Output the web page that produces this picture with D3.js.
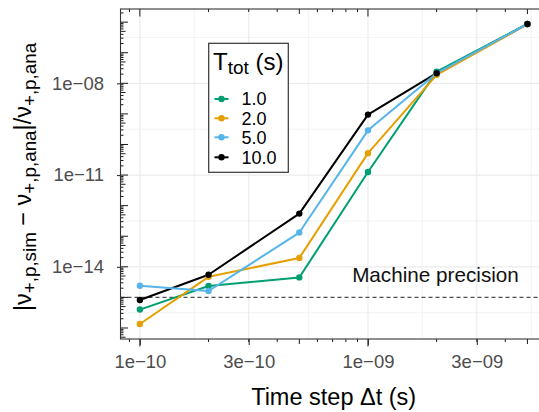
<!DOCTYPE html>
<html>
<head>
<meta charset="utf-8">
<script src="https://cdn.jsdelivr.net/npm/d3@7"></script>
<style>
  html, body { margin: 0; padding: 0; background: #ffffff; }
  svg { display: block; font-family: "Liberation Sans", Arial, Helvetica, sans-serif; }
</style>
</head>
<body>
<svg id="chart" width="539" height="412"></svg>
<script>
// Time steps (s)
const timeSteps = [1e-10, 2e-10, 5e-10, 1e-9, 2e-9, 5e-9];

// Total simulated time levels (s) and their colours
const ttotLevels = ["1.0", "2.0", "5.0", "10.0"];
const ttotColors = ["#009E73", "#E69F00", "#56B4E9", "#000000"];

// Relative error of the sampled rate, one array per T_tot
const relErr_1 = [4.0e-16, 2.35e-15, 4.5e-15, 1.26e-11, 2.4e-8, 8.7e-7];
const relErr_2 = [1.35e-16, 4.7e-15, 1.95e-14, 5.2e-11, 1.9e-8, 8.5e-7];
const relErr_5 = [2.4e-15, 1.62e-15, 1.32e-13, 2.9e-10, 2.14e-8, 8.7e-7];
const relErr_10 = [8.2e-16, 5.5e-15, 5.5e-13, 9.5e-10, 2.14e-8, 8.7e-7];

// Axis breaks and labels
const xBreaks = [1e-10, 3e-10, 1e-9, 3e-9];
const xBreakLabels = ["1e\u221210", "3e\u221210", "1e\u221209", "3e\u221209"];
const yBreaks = [1e-14, 1e-11, 1e-8];
const yBreakLabels = ["1e\u221214", "1e\u221211", "1e\u221208"];

// Reference level
const machinePrecision = 1e-15;
const machineLabel = "Machine precision";

const series = [
  { level: ttotLevels[0], color: ttotColors[0], values: relErr_1 },
  { level: ttotLevels[1], color: ttotColors[1], values: relErr_2 },
  { level: ttotLevels[2], color: ttotColors[2], values: relErr_5 },
  { level: ttotLevels[3], color: ttotColors[3], values: relErr_10 }
];

const svg = d3.select("#chart");

// Panel box (the right border runs past the visible canvas)
const panel = { left: 120.5, right: 546.8, top: 9, bottom: 339 };

// Log scales with a 5% expansion of the data range in log space
function expandedLogDomain(vals) {
  const ext = d3.extent(vals.map(v => Math.log10(v)));
  const pad = (ext[1] - ext[0]) * 0.05;
  return [Math.pow(10, ext[0] - pad), Math.pow(10, ext[1] + pad)];
}
const allErr = [].concat(relErr_1, relErr_2, relErr_5, relErr_10);
const x = d3.scaleLog().domain(expandedLogDomain(timeSteps)).range([panel.left, panel.right]);
const y = d3.scaleLog().domain(expandedLogDomain(allErr)).range([panel.bottom, panel.top]);

// Minor breaks: log-space midpoints between majors, extended by one step
function minorBreaks(majors) {
  const lb = majors.map(v => Math.log10(v));
  const step = lb[1] - lb[0];
  const ext = [lb[0] - step].concat(lb, [lb[lb.length - 1] + step]);
  const out = [];
  for (let i = 0; i < ext.length - 1; i++) out.push(Math.pow(10, (ext[i] + ext[i + 1]) / 2));
  return out;
}

const grid = svg.append("g");
const xd = x.domain(), yd = y.domain();
minorBreaks(xBreaks).filter(v => v > xd[0] && v < xd[1]).forEach(v => {
  grid.append("line").attr("x1", x(v)).attr("x2", x(v)).attr("y1", panel.top).attr("y2", panel.bottom)
    .attr("stroke", "#f2f2f2").attr("stroke-width", 0.9);
});
minorBreaks(yBreaks).filter(v => v > yd[0] && v < yd[1]).forEach(v => {
  grid.append("line").attr("x1", panel.left).attr("x2", panel.right).attr("y1", y(v)).attr("y2", y(v))
    .attr("stroke", "#f2f2f2").attr("stroke-width", 0.9);
});
xBreaks.forEach(v => {
  grid.append("line").attr("x1", x(v)).attr("x2", x(v)).attr("y1", panel.top).attr("y2", panel.bottom)
    .attr("stroke", "#ebebeb").attr("stroke-width", 1.2);
});
yBreaks.forEach(v => {
  grid.append("line").attr("x1", panel.left).attr("x2", panel.right).attr("y1", y(v)).attr("y2", y(v))
    .attr("stroke", "#ebebeb").attr("stroke-width", 1.2);
});

// Machine precision reference line and label
svg.append("line")
  .attr("x1", panel.left).attr("x2", panel.right)
  .attr("y1", y(machinePrecision)).attr("y2", y(machinePrecision))
  .attr("stroke", "#4d4d4d").attr("stroke-width", 1.2).attr("stroke-dasharray", "4,3");
svg.append("text")
  .attr("x", 435.5).attr("y", y(machinePrecision) - 15.3)
  .attr("text-anchor", "middle")
  .style("font-size", "20.7px").attr("fill", "#111")
  .text(machineLabel);

// Lines
const line = d3.line().x((d, i) => x(timeSteps[i])).y(d => y(d));
const lineOrder = [3, 0, 1, 2];
lineOrder.forEach(k => {
  svg.append("path").datum(series[k].values)
    .attr("d", line).attr("fill", "none")
    .attr("stroke", series[k].color).attr("stroke-width", 2)
    .attr("stroke-linejoin", "round");
});
// Points
series.forEach(s => {
  svg.append("g").selectAll("circle").data(s.values).join("circle")
    .attr("cx", (d, i) => x(timeSteps[i])).attr("cy", d => y(d))
    .attr("r", 3.2).attr("fill", s.color);
});

// Log ticks on all four sides
function logTickValues(domain) {
  const lo = Math.floor(Math.log10(domain[0])), hi = Math.ceil(Math.log10(domain[1]));
  const out = [];
  for (let e = lo; e <= hi; e++) {
    for (let k = 1; k <= 9; k++) {
      const v = k * Math.pow(10, e);
      if (v >= domain[0] && v <= domain[1]) out.push({ v, k });
    }
  }
  return out;
}
const tickLen = k => (k === 1 ? 7.5 : k === 5 ? 5 : 3);
const lt = svg.append("g").attr("stroke", "#1a1a1a").attr("stroke-width", 1);
logTickValues(yd).forEach(t => {
  lt.append("line").attr("x1", panel.left).attr("x2", panel.left + tickLen(t.k))
    .attr("y1", y(t.v)).attr("y2", y(t.v));
  lt.append("line").attr("x1", panel.right).attr("x2", panel.right - tickLen(t.k))
    .attr("y1", y(t.v)).attr("y2", y(t.v));
});
logTickValues(xd).forEach(t => {
  lt.append("line").attr("y1", panel.top).attr("y2", panel.top + tickLen(t.k))
    .attr("x1", x(t.v)).attr("x2", x(t.v));
  lt.append("line").attr("y1", panel.bottom).attr("y2", panel.bottom + tickLen(t.k))
    .attr("x1", x(t.v)).attr("x2", x(t.v));
});

// Panel border
svg.append("rect")
  .attr("x", panel.left).attr("y", panel.top)
  .attr("width", panel.right - panel.left).attr("height", panel.bottom - panel.top)
  .attr("fill", "none").attr("stroke", "#333333").attr("stroke-width", 1.1);

// Axes
const xAxis = svg.append("g").attr("transform", `translate(0,${panel.bottom})`)
  .call(d3.axisBottom(x).tickValues(xBreaks).tickFormat((d, i) => xBreakLabels[i])
    .tickSizeInner(6).tickSizeOuter(0).tickPadding(10));
const yAxis = svg.append("g").attr("transform", `translate(${panel.left},0)`)
  .call(d3.axisLeft(y).tickValues(yBreaks).tickFormat((d, i) => yBreakLabels[i])
    .tickSizeInner(3.5).tickSizeOuter(0).tickPadding(13));
[xAxis, yAxis].forEach(g => {
  g.select(".domain").remove();
  g.selectAll(".tick line").attr("stroke", "#333333").attr("stroke-width", 1.1);
  g.selectAll(".tick text").attr("fill", "#4d4d4d")
    .style("font-size", "18.5px").style("font-family", "Liberation Sans, Arial, sans-serif");
});

// Axis titles
svg.append("text")
  .attr("x", (panel.left + panel.right) / 2).attr("y", 405)
  .attr("text-anchor", "middle").style("font-size", "23.5px").attr("fill", "#000")
  .text("Time step \u0394t (s)");

const yTitle = svg.append("text")
  .attr("transform", `translate(31,${(panel.top + panel.bottom) / 2 + 3}) rotate(-90)`)
  .attr("text-anchor", "middle").style("font-size", "23.5px").attr("fill", "#000");
const subShift = 5;
const titleParts = [
  { t: "|\u03bd", sub: false },
  { t: "+,p,sim", sub: true },
  { t: " \u2212 \u03bd", sub: false },
  { t: "+,p,ana", sub: true },
  { t: "|/\u03bd", sub: false },
  { t: "+,p,ana", sub: true }
];
let inSub = false;
titleParts.forEach(p => {
  const ts = yTitle.append("tspan").text(p.t);
  if (p.sub && !inSub) ts.attr("dy", subShift);
  if (!p.sub && inSub) ts.attr("dy", -subShift);
  if (p.sub) ts.style("font-size", "18.8px");
  inSub = p.sub;
});

// Legend
const legend = svg.append("g");
legend.append("rect")
  .attr("x", 208.7).attr("y", 43.3).attr("width", 79.6).attr("height", 129)
  .attr("fill", "#fff").attr("stroke", "#333").attr("stroke-width", 1.2);
const lt2 = legend.append("text").attr("x", 213).attr("y", 70).style("font-size", "24px").attr("fill", "#000");
lt2.append("tspan").text("T");
lt2.append("tspan").attr("dy", 4).style("font-size", "19px").text("tot");
lt2.append("tspan").attr("dy", -4).text(" (s)");
const keyY = [99, 118.3, 137.3, 157.3];
series.forEach((s, i) => {
  legend.append("line").attr("x1", 214.5).attr("x2", 228.5).attr("y1", keyY[i]).attr("y2", keyY[i])
    .attr("stroke", s.color).attr("stroke-width", 2);
  legend.append("circle").attr("cx", 221.5).attr("cy", keyY[i]).attr("r", 3.2).attr("fill", s.color);
  legend.append("text").attr("x", 241.5).attr("y", keyY[i]).attr("dy", "0.36em")
    .style("font-size", "18px").attr("fill", "#000").text(s.level);
});
</script>
</body>
</html>
